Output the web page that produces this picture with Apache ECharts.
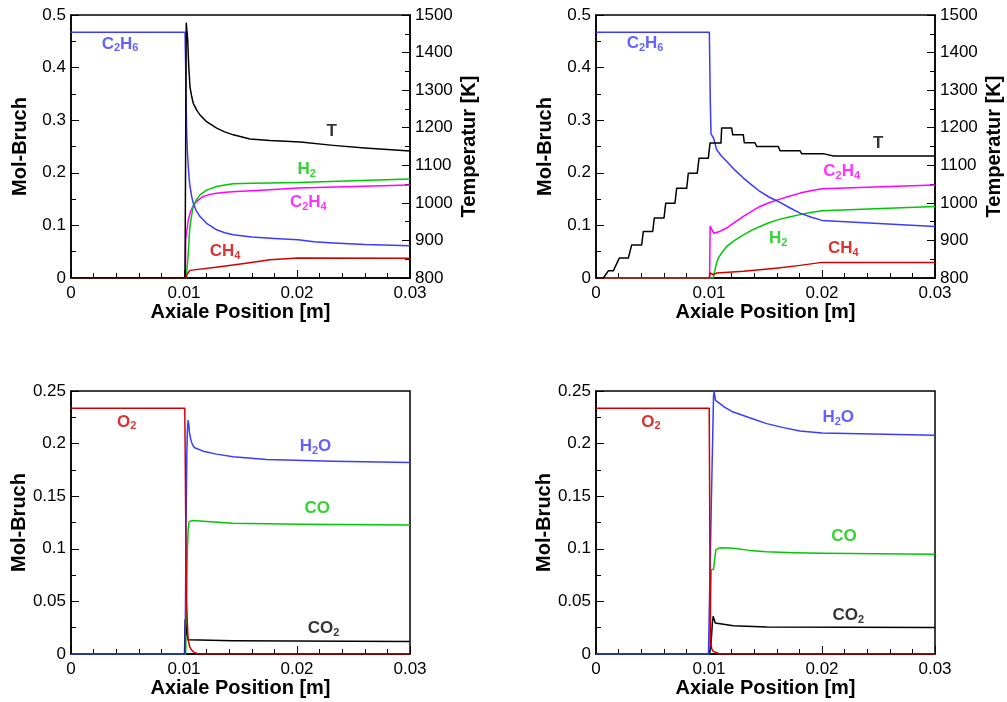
<!DOCTYPE html>
<html>
<head>
<meta charset="utf-8">
<script src="https://cdn.jsdelivr.net/npm/echarts@6/dist/echarts.min.js"></script>
<style>
html,body{margin:0;padding:0;background:#fff;}
#chart{width:1007px;height:702px;}
</style>
</head>
<body>
<div id="chart"></div>
<script>
// ---------- DATA ----------
// top-left panel
const tlC2H6 = [[0,0.467],[0.01009,0.467],[0.01015,0.40],[0.0102,0.32],[0.01024,0.275],[0.0103,0.24],[0.01038,0.212],[0.01045,0.19],[0.01053,0.174],[0.01068,0.155],[0.01082,0.142],[0.0111,0.127],[0.01142,0.117],[0.012,0.104],[0.01289,0.0917],[0.0136,0.086],[0.01436,0.0822],[0.016,0.078],[0.018,0.075],[0.0201,0.0728],[0.0215,0.069],[0.0232,0.0665],[0.026,0.0635],[0.03,0.0614]];
const tlT = [[0,800],[0.01009,800],[0.0102,1478],[0.01024,1478],[0.01033,1433],[0.01042,1363],[0.01053,1309],[0.01068,1283],[0.01082,1265],[0.01112,1247],[0.01142,1234],[0.012,1216],[0.01289,1199],[0.0136,1189],[0.01436,1181],[0.01584,1170],[0.01761,1166],[0.0203,1162],[0.0232,1153],[0.026,1146],[0.03,1138]];
const tlH2 = [[0,0],[0.01018,0],[0.01028,0.02],[0.01038,0.0475],[0.01045,0.075],[0.01053,0.098],[0.01068,0.12],[0.01082,0.136],[0.0111,0.149],[0.01142,0.158],[0.012,0.167],[0.01289,0.174],[0.0136,0.177],[0.01436,0.179],[0.016,0.18],[0.01761,0.1804],[0.0201,0.1815],[0.03,0.188]];
const tlC2H4 = [[0,0],[0.01012,0],[0.01015,0.073],[0.0103,0.098],[0.0104,0.112],[0.01053,0.123],[0.01075,0.135],[0.01097,0.142],[0.0113,0.149],[0.0117,0.155],[0.0123,0.159],[0.01289,0.161],[0.0137,0.163],[0.01466,0.1645],[0.016,0.166],[0.01761,0.1677],[0.0201,0.171],[0.03,0.1766]];
const tlCH4 = [[0,0],[0.01018,0],[0.0103,0.0082],[0.01053,0.0145],[0.013,0.021],[0.0155,0.028],[0.0176,0.0345],[0.0201,0.038],[0.03,0.0375]];
// top-right panel
const trC2H6 = [[0,0.467],[0.01003,0.467],[0.01012,0.33],[0.01018,0.274],[0.0103,0.271],[0.01042,0.265],[0.01053,0.256],[0.01068,0.2437],[0.0111,0.232],[0.01157,0.2215],[0.0123,0.205],[0.01304,0.19],[0.0138,0.1765],[0.01451,0.1645],[0.0153,0.154],[0.01613,0.1455],[0.0171,0.134],[0.01805,0.1234],[0.019,0.116],[0.02,0.1095],[0.03,0.098]];
const trT = [[0,800],[0.00065,800],[0.00109,819],[0.00153,819],[0.00206,853],[0.00286,853],[0.00316,888],[0.00404,888],[0.00419,924],[0.00502,924],[0.00516,960],[0.00602,960],[0.00617,999],[0.00699,999],[0.00714,1039],[0.00803,1039],[0.00817,1079],[0.00896,1079],[0.00912,1119],[0.00994,1119],[0.01009,1159],[0.01106,1159],[0.01112,1199],[0.01201,1199],[0.0121,1181],[0.01304,1181],[0.01312,1160],[0.01407,1160],[0.01422,1150],[0.01613,1150],[0.01628,1139],[0.01805,1139],[0.0182,1131],[0.0201,1131],[0.021,1125],[0.03,1125]];
const trC2H4 = [[0,0],[0.01005,0],[0.0101,0.098],[0.01044,0.085],[0.011,0.089],[0.01155,0.095],[0.0123,0.106],[0.01304,0.117],[0.0138,0.127],[0.01451,0.136],[0.0153,0.143],[0.01613,0.149],[0.0171,0.1555],[0.01805,0.1614],[0.019,0.166],[0.02,0.1696],[0.03,0.177]];
const trH2 = [[0,0],[0.01038,0],[0.01045,0.008],[0.01053,0.016],[0.01068,0.029],[0.01083,0.038],[0.0112,0.05],[0.01157,0.06],[0.0123,0.072],[0.01304,0.082],[0.0138,0.091],[0.01451,0.098],[0.0153,0.105],[0.01613,0.111],[0.0171,0.116],[0.01805,0.1205],[0.019,0.1245],[0.02,0.128],[0.03,0.136]];
const trCH4 = [[0,0],[0.01003,0],[0.01009,0.0095],[0.01038,0.0063],[0.01068,0.0095],[0.01304,0.0127],[0.0145,0.0155],[0.01613,0.019],[0.01805,0.024],[0.02,0.0297],[0.03,0.0297]];
// bottom-left panel
const blO2 = [[0,0.2335],[0.01007,0.2335],[0.01016,0.12],[0.01022,0.05],[0.01036,0.0136],[0.0105,0.007],[0.01066,0.004],[0.0109,0.0015],[0.0113,0],[0.03,0]];
const blH2O = [[0,0],[0.0101,0],[0.01018,0.12],[0.01025,0.19],[0.0103,0.212],[0.01036,0.222],[0.01042,0.218],[0.01047,0.212],[0.0105,0.2095],[0.01058,0.205],[0.01066,0.2016],[0.0108,0.198],[0.01095,0.196],[0.01169,0.1928],[0.01287,0.19],[0.01434,0.1874],[0.0173,0.185],[0.0232,0.1833],[0.03,0.182]];
const blCO = [[0,0],[0.01015,0],[0.0102,0.03],[0.01025,0.07],[0.0103,0.1],[0.01037,0.118],[0.01045,0.1258],[0.01057,0.1274],[0.0107,0.1268],[0.0114,0.1264],[0.0143,0.1242],[0.0203,0.1233],[0.03,0.1226]];
const blCO2 = [[0,0],[0.01005,0],[0.0101,0.0325],[0.01025,0.02],[0.01036,0.0136],[0.0143,0.0126],[0.03,0.012]];
// bottom-right panel
const brO2 = [[0,0.2335],[0.01002,0.2335],[0.01008,0.1],[0.01014,0.0104],[0.01025,0.005],[0.01037,0.0025],[0.01096,0],[0.03,0]];
const brH2O = [[0,0],[0.00995,0],[0.0102,0.14],[0.0104,0.245],[0.01046,0.25],[0.0105,0.246],[0.01058,0.241],[0.01067,0.2396],[0.0114,0.2345],[0.01214,0.23],[0.0136,0.2245],[0.0151,0.219],[0.0166,0.2152],[0.01804,0.212],[0.02,0.21],[0.03,0.208]];
const brCO = [[0,0],[0.01005,0],[0.0102,0.08],[0.0104,0.0805],[0.0105,0.09],[0.01061,0.099],[0.0109,0.1007],[0.0112,0.1011],[0.01214,0.1005],[0.0136,0.0985],[0.0151,0.0973],[0.0175,0.0963],[0.02,0.0958],[0.03,0.0948]];
const brCO2 = [[0,0],[0.01,0],[0.01015,0.005],[0.0103,0.03],[0.01037,0.0357],[0.01045,0.033],[0.01055,0.0295],[0.01067,0.0284],[0.01214,0.0269],[0.0151,0.0256],[0.03,0.0253]];

// curve labels (text and anchor in data coordinates of the left axis)
const tlLabelText = ['{m|C}{s|2}{m|H}{s|6}','{m|T}','{m|H}{s|2}','{m|C}{s|2}{m|H}{s|4}','{m|CH}{s|4}'];
const tlLabelPos = [[0.00434,0.445],[0.02307,0.278],[0.02086,0.207],[0.021,0.144],[0.01363,0.0505]];
const trLabelText = ['{m|C}{s|2}{m|H}{s|6}','{m|T}','{m|C}{s|2}{m|H}{s|4}','{m|H}{s|2}','{m|CH}{s|4}'];
const trLabelPos = [[0.00434,0.446],[0.02498,0.256],[0.02174,0.2025],[0.01613,0.076],[0.02189,0.057]];
const blLabelText = ['{m|O}{s|2}','{m|H}{s|2}{m|O}','{m|CO}','{m|CO}{s|2}'];
const blLabelPos = [[0.00492,0.2206],[0.02164,0.1975],[0.02179,0.1383],[0.02234,0.0244]];
const brLabelText = ['{m|O}{s|2}','{m|H}{s|2}{m|O}','{m|CO}','{m|CO}{s|2}'];
const brLabelPos = [[0.00487,0.2206],[0.02144,0.2253],[0.02195,0.1114],[0.02233,0.037]];

const xTickLabels = ['0','0.01','0.02','0.03'];

// ---------- STYLE ----------
const BLUE='#3b3bff', GREEN='#00c800', MAG='#ff00ff', RED='#d00000', BLACK='#000000';
const FONT = '"Liberation Sans", Arial, Helvetica, sans-serif';

const grids = [
  {left:71, top:15, width:339, height:263},
  {left:596, top:15, width:339, height:263},
  {left:71, top:391, width:339, height:263},
  {left:596, top:391, width:339, height:263}
];

function xAxisFor(gi, gap){
  return {
    type:'value', gridIndex:gi, min:0, max:0.03, interval:0.01,
    name:'Axiale Position [m]', nameLocation:'middle', nameGap:gap,
    nameTextStyle:{fontFamily:FONT, fontSize:20, fontWeight:'bold', color:'#000'},
    axisLine:{lineStyle:{color:'#000', width:1.5}},
    axisTick:{inside:true, length:8, lineStyle:{color:'#000', width:1}},
    minorTick:{show:true, splitNumber:5, length:5, lineStyle:{color:'#000', width:1}},
    splitLine:{show:false},
    axisLabel:{fontFamily:FONT, fontSize:17, color:'#000', margin:7,
      formatter:(v)=>{const i=Math.round(v/0.01); return xTickLabels[i]!==undefined?xTickLabels[i]:'';}}
  };
}
function yAxisFor(gi, max, interval, name, pos, gap){
  return {
    type:'value', gridIndex:gi, min: pos==='right'?800:0, max:max, interval:interval, position:pos,
    name:name, nameLocation:'middle', nameGap:gap,
    nameTextStyle:{fontFamily:FONT, fontSize:20, fontWeight:'bold', color:'#000'},
    axisLine:{show:true, lineStyle:{color:'#000', width:1.5}},
    axisTick:{show:true, inside:true, length:8, lineStyle:{color:'#000', width:1}},
    minorTick:{show:true, splitNumber:2, length:5, lineStyle:{color:'#000', width:1}},
    splitLine:{show:false},
    axisLabel:{fontFamily:FONT, fontSize:17, color:'#000', margin:5, formatter:(v)=>String(v)}
  };
}

const xAxes = [xAxisFor(0,21), xAxisFor(1,21), xAxisFor(2,24), xAxisFor(3,24)];
const yAxes = [
  yAxisFor(0,0.5,0.1,'Mol-Bruch','left',41),
  yAxisFor(0,1500,100,'Temperatur [K]','right',49),
  yAxisFor(1,0.5,0.1,'Mol-Bruch','left',41),
  yAxisFor(1,1500,100,'Temperatur [K]','right',49),
  yAxisFor(2,0.25,0.05,'Mol-Bruch','left',41),
  yAxisFor(3,0.25,0.05,'Mol-Bruch','left',41)
];

function line(data, color, xi, yi){
  return {type:'line', data:data, xAxisIndex:xi, yAxisIndex:yi, showSymbol:false, symbol:'none', smooth:false,
    lineStyle:{color:color, width:1.5, join:'round'}, itemStyle:{color:color}, animation:false, silent:true, z:3};
}
function labels(texts, pos, colors, xi, yi){
  return {type:'scatter', xAxisIndex:xi, yAxisIndex:yi, symbolSize:0, animation:false, silent:true, z:5,
    data: pos.map((p,i)=>({value:p, label:{show:true, position:'inside', formatter:texts[i], color:colors[i],
      rich:{
        m:{fontFamily:FONT, fontSize:17, fontWeight:'bold', color:colors[i], lineHeight:19},
        s:{fontFamily:FONT, fontSize:11, fontWeight:'bold', color:colors[i], lineHeight:11, padding:[9,0,0,0]}
      }}}))
  };
}

const series = [
  line(tlC2H4, MAG, 0, 0), line(tlH2, GREEN, 0, 0), line(tlCH4, RED, 0, 0), line(tlC2H6, BLUE, 0, 0), line(tlT, BLACK, 0, 1),
  labels(tlLabelText, tlLabelPos, [BLUE,BLACK,GREEN,MAG,RED], 0, 0),
  line(trC2H4, MAG, 1, 2), line(trH2, GREEN, 1, 2), line(trCH4, RED, 1, 2), line(trC2H6, BLUE, 1, 2), line(trT, BLACK, 1, 3),
  labels(trLabelText, trLabelPos, [BLUE,BLACK,MAG,GREEN,RED], 1, 2),
  line(blCO, GREEN, 2, 4), line(blCO2, BLACK, 2, 4), line(blH2O, BLUE, 2, 4), line(blO2, RED, 2, 4),
  labels(blLabelText, blLabelPos, [RED,BLUE,GREEN,BLACK], 2, 4),
  line(brCO, GREEN, 3, 5), line(brCO2, BLACK, 3, 5), line(brH2O, BLUE, 3, 5), line(brO2, RED, 3, 5),
  labels(brLabelText, brLabelPos, [RED,BLUE,GREEN,BLACK], 3, 5)
];

const chart = echarts.init(document.getElementById('chart'), null, {renderer:'canvas'});
chart.setOption({
  backgroundColor:'#ffffff',
  animation:false,
  grid: grids.map(g=>Object.assign({show:true, borderColor:'#000', borderWidth:1.5, backgroundColor:'transparent'}, g)),
  xAxis: xAxes,
  yAxis: yAxes,
  series: series
});
</script>
</body>
</html>
